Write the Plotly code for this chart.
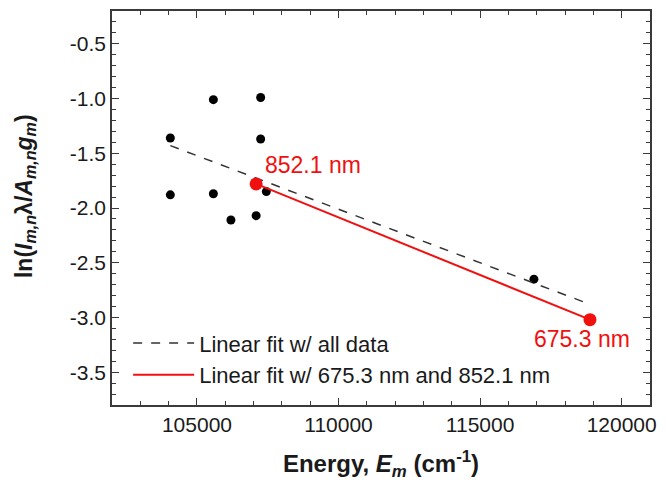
import plotly.graph_objects as go

# Data
energy = [104060, 104060, 105580, 105580, 106200, 107090, 107250, 107250, 107450, 116900]
ln_val = [-1.36, -1.88, -1.01, -1.87, -2.11, -2.07, -0.99, -1.37, -1.85, -2.65]

sel_energy = [107090, 118880]
sel_val = [-1.78, -3.02]
sel_labels = ["852.1 nm", "675.3 nm"]

fit_all_x = [104060, 118880]
fit_all_y = [-1.43, -2.88]

xtick_vals = [105000, 110000, 115000, 120000]
xtick_text = ["105000", "110000", "115000", "120000"]
ytick_vals = [-3.5, -3.0, -2.5, -2.0, -1.5, -1.0, -0.5]
ytick_text = ["-3.5", "-3.0", "-2.5", "-2.0", "-1.5", "-1.0", "-0.5"]

FONT = "Liberation Sans, Arial, sans-serif"
RED = "#f01010"
INK = "#1a1a1a"

fig = go.Figure()
fig.add_trace(go.Scatter(x=energy, y=ln_val, mode="markers",
                         marker=dict(color="black", size=9), showlegend=False))
fig.add_trace(go.Scatter(x=fit_all_x, y=fit_all_y, mode="lines",
                         line=dict(color="#333333", width=1.5, dash="dash"),
                         name="Linear fit w/ all data"))
fig.add_trace(go.Scatter(x=sel_energy, y=sel_val, mode="lines",
                         line=dict(color=RED, width=2),
                         name="Linear fit w/ 675.3 nm and 852.1 nm"))
fig.add_trace(go.Scatter(x=sel_energy, y=sel_val, mode="markers",
                         marker=dict(color=RED, size=13), showlegend=False))

fig.add_annotation(x=sel_energy[0], y=sel_val[0], text=sel_labels[0], showarrow=False,
                   xanchor="left", yanchor="middle", xshift=7, yshift=19,
                   font=dict(family=FONT, size=23, color=RED))
fig.add_annotation(x=sel_energy[1], y=sel_val[1], text=sel_labels[1], showarrow=False,
                   xanchor="center", yanchor="middle", xshift=-8, yshift=-19,
                   font=dict(family=FONT, size=23, color=RED))

# y-axis title as rotated text
fig.add_annotation(xref="paper", yref="paper", x=-0.162, y=0.53, xanchor="center", yanchor="middle",
                   text="<b>ln(<i>I</i><sub><i>m,n</i></sub>λ/<i>A</i><sub><i>m,n</i></sub><i>g</i><sub><i>m</i></sub>)</b>",
                   textangle=-90, showarrow=False,
                   font=dict(family=FONT, size=23, color=INK))

axis_common = dict(showline=True, linecolor="#3a3a3a", linewidth=1.5, mirror="allticks",
                   ticks="inside", ticklen=7, tickwidth=1.2, tickcolor="#3a3a3a",
                   showgrid=False, zeroline=False,
                   tickfont=dict(family=FONT, size=21, color=INK))

fig.update_xaxes(range=[102000, 121000], tickvals=xtick_vals, ticktext=xtick_text,
                 minor=dict(dtick=1000, tick0=100000, ticks="inside", ticklen=4, tickcolor="#3a3a3a"),
                 title=dict(text="<b>Energy, <i>E</i><sub><i>m</i></sub> (cm<sup>-1</sup>)</b>",
                            font=dict(family=FONT, size=24, color=INK), standoff=20),
                 **axis_common)
fig.update_yaxes(range=[-3.8, -0.2], tickvals=ytick_vals, ticktext=ytick_text,
                 minor=dict(dtick=0.1, tick0=0, ticks="inside", ticklen=4, tickcolor="#3a3a3a"),
                 **axis_common)

fig.update_layout(width=670, height=485, margin=dict(l=112, r=20, t=9, b=80),
                  plot_bgcolor="white", paper_bgcolor="white",
                  legend=dict(x=0.03, y=0.21, xanchor="left", yanchor="top", itemwidth=61,
                              bgcolor="rgba(0,0,0,0)", font=dict(family=FONT, size=22, color=INK)))

fig.write_html("out.html")
